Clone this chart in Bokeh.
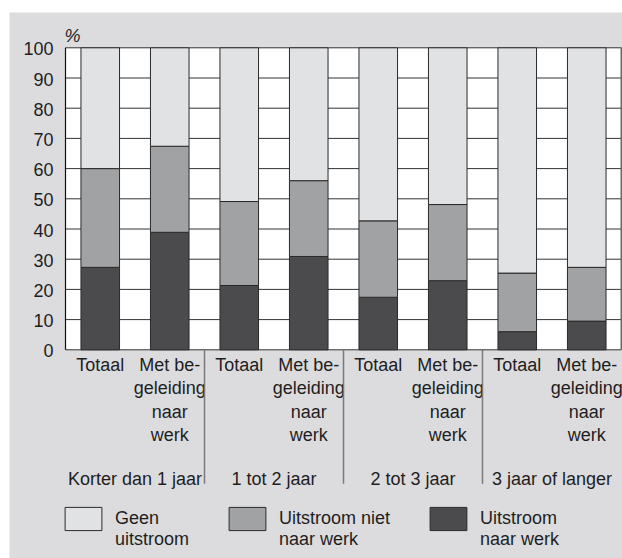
from bokeh.plotting import figure
from bokeh.models import (ColumnDataSource, Range1d, Legend, LegendItem, BoxAnnotation)
from bokeh.core.properties import value
from bokeh.embed import file_html
from bokeh.resources import INLINE

# ---- data ----
groups = ["Korter dan 1 jaar", "1 tot 2 jaar", "2 tot 3 jaar", "3 jaar of langer"]
subs = ["Totaal", "Met be-\ngeleiding\nnaar\nwerk"]
naar_werk = [27.3, 38.9, 21.3, 30.9, 17.4, 22.9, 6.0, 9.5]
niet_naar_werk = [32.7, 28.5, 27.8, 25.1, 25.3, 25.2, 19.4, 17.8]
geen_uitstroom = [40.0, 32.6, 50.9, 44.0, 57.3, 51.9, 74.6, 72.7]
series_labels = ["Uitstroom\nnaar werk", "Uitstroom niet\nnaar werk", "Geen\nuitstroom"]
y_ticks = [0, 10, 20, 30, 40, 50, 60, 70, 80, 90, 100]
unit_label = "%"

# ---- style / layout (pixels) ----
PANEL = "#dcdcde"
C_DARK = "#4b4b4d"
C_MID = "#a1a2a4"
C_LIGHT = "#e1e2e4"
TXT = "#1e1e1e"
FONT = "Liberation Sans"
FS = "18px"
LH = 1.17
W, H = 622, 558
PANEL_LEFT, PANEL_TOP = 9, 12
PLOT_LEFT, PLOT_RIGHT = 65, 621
PLOT_TOP, PLOT_BOTTOM = 47.3, 349.3
SEP_PX = 134

n_sub = len(subs)
n = len(groups) * n_sub
ux = (PLOT_RIGHT - PLOT_LEFT) / n
ymax = y_ticks[-1]
uy = (PLOT_BOTTOM - PLOT_TOP) / ymax
x_range = Range1d(-(PLOT_LEFT - PANEL_LEFT) / ux, n + (W - PLOT_RIGHT) / ux)
y_range = Range1d(-(H - PLOT_BOTTOM) / uy, ymax + (PLOT_TOP - PANEL_TOP) / uy)

p = figure(x_range=x_range, y_range=y_range, x_axis_type=None, y_axis_type=None,
           width=W, height=H, output_backend="svg", toolbar_location=None,
           min_border_left=PANEL_LEFT, min_border_top=PANEL_TOP,
           min_border_right=0, min_border_bottom=0,
           border_fill_color="white", background_fill_color=PANEL,
           outline_line_color=None)

# white plotting area
p.add_layout(BoxAnnotation(left=0, right=n, bottom=y_ticks[0], top=ymax,
                           fill_color="white", fill_alpha=1, line_color=None, level="image"))

# horizontal grid lines
p.segment(x0=[0] * len(y_ticks), x1=[n] * len(y_ticks), y0=y_ticks, y1=y_ticks,
          line_color="#333333", line_width=1)
# left axis line and right edge
p.segment(x0=[0], x1=[0], y0=[y_ticks[0]], y1=[ymax], line_color="#111111", line_width=1.2)
p.segment(x0=[n], x1=[n], y0=[y_ticks[0]], y1=[ymax], line_color="#6a6a6a", line_width=2)

# bars
xs = [i + 0.5 for i in range(n)]
src = ColumnDataSource(dict(x=xs, naar=naar_werk, niet=niet_naar_werk, geen=geen_uitstroom))
rs = p.vbar_stack(["naar", "niet", "geen"], x="x", width=0.555, source=src,
                  fill_color=[C_DARK, C_MID, C_LIGHT], line_color="#2a2a2a", line_width=1)

# y tick labels
p.text(x=[0] * len(y_ticks), y=y_ticks, text=[str(v) for v in y_ticks],
       x_offset=-12, y_offset=1, text_align="right", text_baseline="middle",
       text_font=value(FONT), text_font_size=value(FS), text_color=TXT)

# unit label
p.text(x=[0], y=[ymax], text=[unit_label], x_offset=-1, y_offset=-12, text_align="left",
       text_baseline="middle", text_font=value(FONT), text_font_size=value(FS),
       text_font_style="italic", text_color=TXT)

# category labels
p.text(x=xs, y=[0] * n, text=subs * len(groups), y_offset=5, text_align="center",
       text_baseline="top", text_line_height=LH,
       text_font=value(FONT), text_font_size=value(FS), text_color=TXT)
gx = [n_sub * (k + 0.5) for k in range(len(groups))]
p.text(x=gx, y=[0] * len(groups), text=groups, y_offset=119, text_align="center",
       text_baseline="top", text_font=value(FONT), text_font_size=value(FS), text_color=TXT)

# group separators
sx = [n_sub * k for k in range(1, len(groups))]
p.segment(x0=sx, x1=sx, y0=[0] * len(sx), y1=[-SEP_PX / uy] * len(sx),
          line_color="#7a7a7a", line_width=1.5)

# legend (a leading empty line drops the label text below the swatch centre)
order = [2, 1, 0]
items = [LegendItem(label="\n" + series_labels[i], renderers=[rs[i]]) for i in order]
leg = Legend(items=items, orientation="horizontal", location=(51, 4),
             glyph_width=46, glyph_height=29, label_standoff=9, spacing=35,
             label_height=71, padding=0, margin=0, border_line_color=None,
             background_fill_alpha=0,
             label_text_font=FONT, label_text_font_size=FS, label_text_color=TXT,
             label_text_align="left", label_text_baseline="middle",
             label_text_line_height=LH)
p.add_layout(leg)

open("out.html", "w").write(file_html(p, INLINE))
